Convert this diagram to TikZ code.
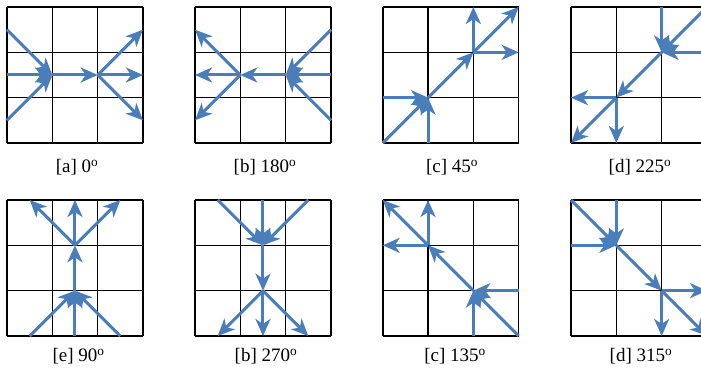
\documentclass[tikz,border=0pt]{standalone}
\usepackage{fontspec}
\setmainfont{Liberation Serif}
\usepackage{tikz}
\usetikzlibrary{arrows.meta}

\definecolor{flowblue}{RGB}{74,126,187}

\begin{document}
\begin{tikzpicture}[
    x=45.33pt,
    y=45.33pt,
    gridline/.style={draw=black, line width=1.6pt},
    flow/.style={draw=flowblue, line width=3pt,
        -{Stealth[length=17pt,width=15pt,inset=5pt]}},
    caption/.style={inner sep=0pt, font=\fontsize{19}{22}\selectfont}
]

\useasboundingbox (0,0) rectangle (701pt,371pt);
\clip (0,0) rectangle (701pt,371pt);


% Grids, with points named (panel-i-j) in half cells
\foreach \p/\x/\y in {a/7/228, b/195/228, c/382.7/228, d/571/228,
                      e/7/35, f/195/35, g/382.7/35, h/571/35}{
  \begin{scope}[shift={(\x pt,\y pt)}]
    \draw[gridline] (0,0) grid[step=1] (3,3);
    \foreach \i in {0,...,6}
      \foreach \j in {0,...,6}
        \coordinate (\p-\i-\j) at (\i/2,\j/2);
  \end{scope}
}


% [a] 0
\foreach \s in {5,3,1} \draw[flow] (a-0-\s) -- (a-2-3);
\draw[flow] (a-2-3) -- (a-4-3);
\foreach \s in {5,3,1} \draw[flow] (a-4-3) -- (a-6-\s);


% [b] 180
\foreach \s in {5,3,1} \draw[flow] (b-6-\s) -- (b-4-3);
\draw[flow] (b-4-3) -- (b-2-3);
\foreach \s in {5,3,1} \draw[flow] (b-2-3) -- (b-0-\s);


% [c] 45
\draw[flow] (c-0-0) -- (c-2-2);
\draw[flow] (c-0-2) -- (c-2-2);
\draw[flow] (c-2-0) -- (c-2-2);
\draw[flow] (c-2-2) -- (c-4-4);
\draw[flow] (c-4-4) -- (c-6-6);
\draw[flow] (c-4-4) -- (c-6-4);
\draw[flow] (c-4-4) -- (c-4-6);


% [d] 225
\draw[flow] (d-4-6) -- (d-4-4);
\draw[flow] (d-6-6) -- (d-4-4);
\draw[flow] (d-6-4) -- (d-4-4);
\draw[flow] (d-4-4) -- (d-2-2);
\draw[flow] (d-2-2) -- (d-0-2);
\draw[flow] (d-2-2) -- (d-0-0);
\draw[flow] (d-2-2) -- (d-2-0);


% [e] 90
\foreach \s in {1,3,5} \draw[flow] (e-\s-0) -- (e-3-2);
\draw[flow] (e-3-2) -- (e-3-4);
\foreach \s in {1,3,5} \draw[flow] (e-3-4) -- (e-\s-6);


% [b] 270
\foreach \s in {1,3,5} \draw[flow] (f-\s-6) -- (f-3-4);
\draw[flow] (f-3-4) -- (f-3-2);
\foreach \s in {1,3,5} \draw[flow] (f-3-2) -- (f-\s-0);


% [c] 135
\draw[flow] (g-6-0) -- (g-4-2);
\draw[flow] (g-4-0) -- (g-4-2);
\draw[flow] (g-6-2) -- (g-4-2);
\draw[flow] (g-4-2) -- (g-2-4);
\draw[flow] (g-2-4) -- (g-0-6);
\draw[flow] (g-2-4) -- (g-2-6);
\draw[flow] (g-2-4) -- (g-0-4);


% [d] 315
\draw[flow] (h-0-6) -- (h-2-4);
\draw[flow] (h-2-6) -- (h-2-4);
\draw[flow] (h-0-4) -- (h-2-4);
\draw[flow] (h-2-4) -- (h-4-2);
\draw[flow] (h-4-2) -- (h-6-2);
\draw[flow] (h-4-2) -- (h-6-0);
\draw[flow] (h-4-2) -- (h-4-0);


% Captions
\node[caption] (cap-a) at (77pt,204pt) {[a] 0\textsuperscript{o}};
\node[caption] (cap-b) at (265pt,204pt) {[b] 180\textsuperscript{o}};
\node[caption] (cap-c) at (452pt,204pt) {[c] 45\textsuperscript{o}};
\node[caption] (cap-d) at (640pt,204pt) {[d] 225\textsuperscript{o}};
\node[caption] (cap-e) at (78.5pt,15pt) {[e] 90\textsuperscript{o}};
\node[caption] (cap-f) at (266pt,15pt) {[b] 270\textsuperscript{o}};
\node[caption] (cap-g) at (455pt,15pt) {[c] 135\textsuperscript{o}};
\node[caption] (cap-h) at (641pt,15pt) {[d] 315\textsuperscript{o}};

\end{tikzpicture}
\end{document}
